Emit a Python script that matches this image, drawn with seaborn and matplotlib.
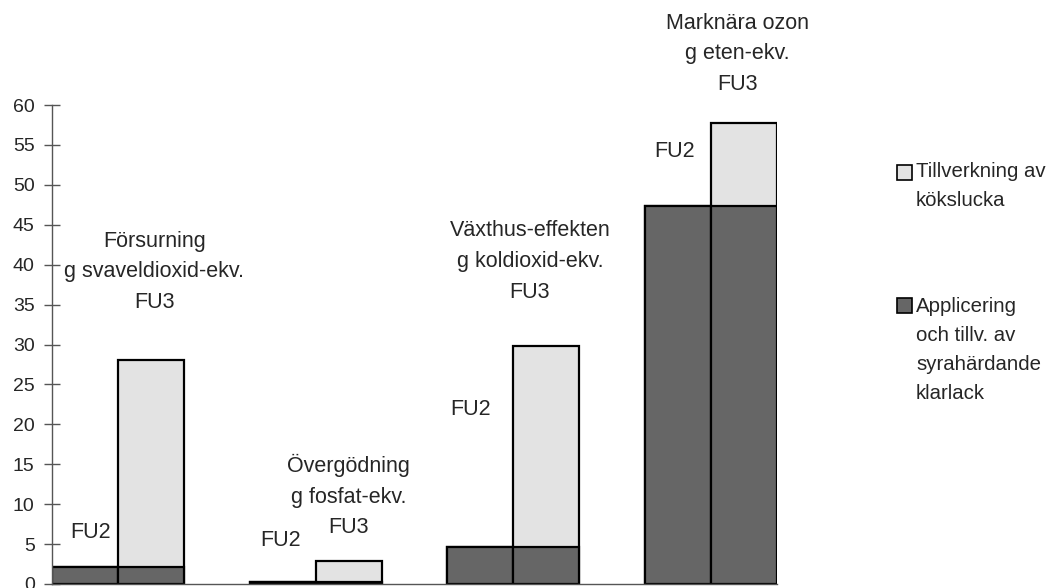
import matplotlib
matplotlib.use("Agg")
import matplotlib.pyplot as plt
import matplotlib.patches as mpatches
import seaborn as sns
import pandas as pd

## Data

bar_pos = [0, 1, 3, 4, 6, 7, 9, 10]
bar_unit = ["FU2", "FU3", "FU2", "FU3", "FU2", "FU3", "FU2", "FU3"]
applicering = [2.1, 2.1, 0.3, 0.3, 4.6, 4.6, 47.4, 47.4]
tillverkning = [0.0, 25.9, 0.0, 2.6, 0.0, 25.2, 0.0, 10.4]

group_titles = [
    "Försurning\ng svaveldioxid-ekv.\nFU3",
    "Övergödning\ng fosfat-ekv.\nFU3",
    "Växthus-effekten\ng koldioxid-ekv.\nFU3",
    "Marknära ozon\ng eten-ekv.\nFU3",
]
title_x = [1.05, 4.0, 6.75, 9.9]
title_y = [39.1, 11.0, 40.4, 66.4]
fu2_x = [0.08, 2.97, 5.85, 8.95]
fu2_y = [6.5, 5.5, 21.8, 54.2]

legend_labels = ["Tillverkning av\nkökslucka",
                 "Applicering\noch tillv. av\nsyrahärdande\nklarlack"]

dark = "#666666"
light = "#e3e3e3"

df = pd.DataFrame({"pos": bar_pos, "unit": bar_unit,
                   "applicering": applicering, "tillverkning": tillverkning})
df["total"] = df["applicering"] + df["tillverkning"]

sns.set_style("white")
plt.rcParams["font.family"] = ["Liberation Sans", "DejaVu Sans"]

## Plot

W, H = 1056, 588
fig = plt.figure(figsize=(W / 100, H / 100), dpi=100)
ax = fig.add_axes([52 / W, 4 / H, 725 / W, 479 / H])

sns.barplot(data=df, x="pos", y="total", native_scale=True, width=1,
            color=light, saturation=1, edgecolor="black", linewidth=1.6, ax=ax)
sns.barplot(data=df, x="pos", y="applicering", native_scale=True, width=1,
            color=dark, saturation=1, edgecolor="black", linewidth=1.6, ax=ax)

ax.set_xlim(-0.5, 10.5)
ax.set_ylim(0, 60)
ax.set_yticks(range(0, 61, 5))
ax.set_xticks([])
ax.set_xlabel("")
ax.set_ylabel("")
sns.despine(ax=ax)
for s in ["left", "bottom"]:
    ax.spines[s].set_color("#555555")
    ax.spines[s].set_linewidth(1)
ax.tick_params(axis="y", direction="inout", length=11, width=1,
               color="#555555", pad=7, labelsize=14, left=True)

for t, x, y in zip(group_titles, title_x, title_y):
    ax.text(x, y, t, ha="center", va="center", fontsize=15.5,
            linespacing=1.6, clip_on=False)
for x, y in zip(fu2_x, fu2_y):
    ax.text(x, y, "FU2", ha="center", va="center", fontsize=15.5, clip_on=False)

# legend drawn by hand so the box sits on the first line of each label
legend_colors = [light, dark]
legend_box_y = [172, 305]
legend_text_y = [186, 350]
for lab, col, by, ty in zip(legend_labels, legend_colors, legend_box_y, legend_text_y):
    fig.patches.append(mpatches.Rectangle(
        (897 / W, 1 - (by + 7.5) / H), 15 / W, 15 / H,
        transform=fig.transFigure, facecolor=col, edgecolor="black",
        linewidth=1.2))
    fig.text(916 / W, 1 - ty / H, lab, ha="left", va="center",
             fontsize=14.7, linespacing=1.68)

fig.savefig("out.png", dpi=100)
